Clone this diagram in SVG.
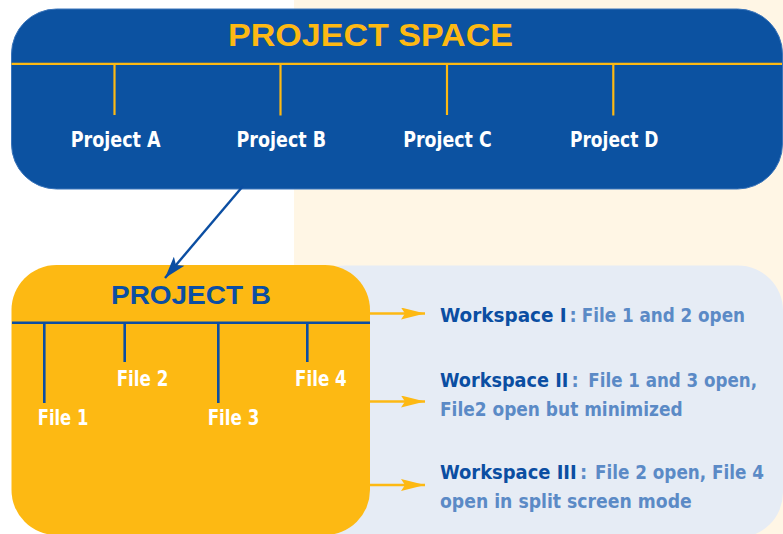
<svg xmlns="http://www.w3.org/2000/svg" width="783" height="534" viewBox="0 0 783 534">
  <style>
    .cond { font-family: "Liberation Sans Narrow", "Arial Narrow", "DejaVu Sans Condensed", "Liberation Sans", sans-serif; font-weight: bold; font-stretch: condensed; }
    .head { font-family: "Liberation Sans", Arial, sans-serif; font-weight: bold; }
    .proj { fill: #ffffff; font-size: 21px; text-anchor: middle; }
    .file { fill: #ffffff; font-size: 22px; }
    .ws { font-size: 20px; fill: #5b8ac6; }
    .dark { fill: #0b4ea2; }
    .ytick { stroke: #fdb913; stroke-width: 2.2; fill: none; }
    .btick { stroke: #0b4ea2; stroke-width: 2.6; fill: none; }
    .yarrow { stroke: #fdb913; stroke-width: 2.6; fill: none; marker-end: url(#ahYellow); }
    .barrow { stroke: #0b4ea2; stroke-width: 2.4; fill: none; marker-end: url(#ahBlue); }
  </style>
  <defs>
    <marker id="ahYellow" viewBox="0 0 24 12" refX="24" refY="6" markerWidth="24" markerHeight="12" markerUnits="userSpaceOnUse" orient="auto">
      <path d="M0,0 L24,6 L0,12 L4,6 Z" fill="#fdb913"/>
    </marker>
    <marker id="ahBlue" viewBox="0 0 22 14" refX="22" refY="7" markerWidth="22" markerHeight="14" markerUnits="userSpaceOnUse" orient="auto">
      <path d="M0,0 L22,7 L0,14 L5,7 Z" fill="#0b4ea2"/>
    </marker>
  </defs>

  <!-- backgrounds -->
  <rect x="0" y="0" width="783" height="534" fill="#ffffff"/>
  <rect x="294" y="0" width="489" height="534" fill="#fff6e5"/>
  <rect id="workspace-panel" x="300" y="265.5" width="483" height="272" rx="45" fill="#e6ecf5"/>

  <!-- project space -->
  <g id="project-space">
    <rect x="11.5" y="9" width="771" height="180" rx="45" fill="#0c52a1" stroke="#3a74ba" stroke-width="1"/>
    <text class="head" x="228" y="45.7" font-size="31.5" fill="#fdb913" textLength="285" lengthAdjust="spacingAndGlyphs">PROJECT SPACE</text>
    <line class="ytick" x1="11.5" y1="63.8" x2="782" y2="63.8"/>
    <line class="ytick" x1="114.5" y1="64" x2="114.5" y2="115"/>
    <line class="ytick" x1="280.5" y1="64" x2="280.5" y2="115.5"/>
    <line class="ytick" x1="447" y1="64" x2="447" y2="115"/>
    <line class="ytick" x1="613.3" y1="64" x2="613.3" y2="115.5"/>
  </g>
  <g id="project-a"><text class="cond proj" x="115.7" y="146.7" textLength="90" lengthAdjust="spacingAndGlyphs">Project A</text></g>
  <g id="project-b-label"><text class="cond proj" x="281.3" y="146.7" textLength="89.5" lengthAdjust="spacingAndGlyphs">Project B</text></g>
  <g id="project-c"><text class="cond proj" x="447.5" y="146.7" textLength="88.5" lengthAdjust="spacingAndGlyphs">Project C</text></g>
  <g id="project-d"><text class="cond proj" x="614.2" y="146.7" textLength="88.5" lengthAdjust="spacingAndGlyphs">Project D</text></g>

  <!-- project B detail -->
  <g id="project-b">
    <rect x="11.5" y="265" width="358.5" height="270" rx="45" fill="#fdb913"/>
    <text class="head" x="111" y="304.3" font-size="25.5" fill="#0b4ea2" textLength="160" lengthAdjust="spacingAndGlyphs">PROJECT B</text>
    <line class="btick" x1="12" y1="322.7" x2="370" y2="322.7"/>
    <line class="btick" x1="44.3" y1="322.7" x2="44.3" y2="403"/>
    <line class="btick" x1="124.7" y1="322.7" x2="124.7" y2="362"/>
    <line class="btick" x1="218.3" y1="322.7" x2="218.3" y2="403"/>
    <line class="btick" x1="307.3" y1="322.7" x2="307.3" y2="362"/>
  </g>
  <g id="file-1"><text class="cond file" x="37.7" y="424.5" textLength="50.6" lengthAdjust="spacingAndGlyphs">File 1</text></g>
  <g id="file-2"><text class="cond file" x="116.7" y="385.7" textLength="51.6" lengthAdjust="spacingAndGlyphs">File 2</text></g>
  <g id="file-3"><text class="cond file" x="207.7" y="424.5" textLength="51.6" lengthAdjust="spacingAndGlyphs">File 3</text></g>
  <g id="file-4"><text class="cond file" x="295" y="385.7" textLength="51.7" lengthAdjust="spacingAndGlyphs">File 4</text></g>

  <!-- workspaces -->
  <g id="workspace-1">
    <text class="cond ws dark" x="440" y="321.5" textLength="126.7" lengthAdjust="spacingAndGlyphs">Workspace I</text>
    <text class="cond ws" x="569.5" y="321.5">:</text>
    <text class="cond ws" x="581.7" y="321.5" textLength="163.3" lengthAdjust="spacingAndGlyphs">File 1 and 2 open</text>
  </g>
  <g id="workspace-2">
    <text class="cond ws dark" x="440" y="386.5" textLength="128.3" lengthAdjust="spacingAndGlyphs">Workspace II</text>
    <text class="cond ws" x="571.5" y="386.5">:</text>
    <text class="cond ws" x="588.3" y="386.5" textLength="168.7" lengthAdjust="spacingAndGlyphs">File 1 and 3 open,</text>
    <text class="cond ws" x="440" y="415.5" textLength="242.7" lengthAdjust="spacingAndGlyphs">File2 open but minimized</text>
  </g>
  <g id="workspace-3">
    <text class="cond ws dark" x="440" y="478.5" textLength="136.7" lengthAdjust="spacingAndGlyphs">Workspace III</text>
    <text class="cond ws" x="580" y="478.5">:</text>
    <text class="cond ws" x="595" y="478.5" textLength="169" lengthAdjust="spacingAndGlyphs">File 2 open, File 4</text>
    <text class="cond ws" x="440" y="507.5" textLength="251.7" lengthAdjust="spacingAndGlyphs">open in split screen mode</text>
  </g>

  <!-- connectors -->
  <g id="connectors">
    <line class="barrow" x1="243" y1="186" x2="165" y2="278"/>
    <line class="yarrow" x1="370" y1="313.5" x2="425" y2="313.5"/>
    <line class="yarrow" x1="370" y1="401.5" x2="425" y2="401.5"/>
    <line class="yarrow" x1="370" y1="485" x2="425" y2="485"/>
  </g>
</svg>
